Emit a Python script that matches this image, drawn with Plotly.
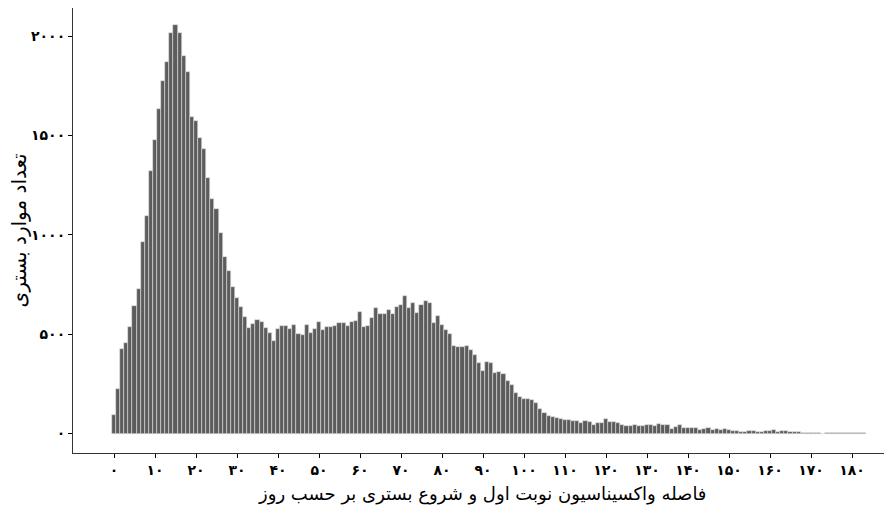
import plotly.graph_objects as go

counts = [91, 222, 427, 457, 538, 642, 729, 964, 1095, 1322,
          1478, 1633, 1776, 1868, 2016, 2056, 2016, 1898, 1818, 1594,
          1571, 1490, 1431, 1284, 1183, 1129, 1011, 889, 818, 740,
          682, 638, 586, 533, 553, 570, 561, 533, 504, 465,
          524, 541, 541, 524, 546, 502, 497, 546, 504, 524,
          561, 521, 536, 536, 541, 556, 556, 541, 563, 567,
          612, 536, 539, 583, 633, 603, 603, 620, 603, 635,
          647, 692, 632, 657, 608, 645, 667, 655, 558, 591,
          544, 521, 502, 440, 437, 437, 440, 418, 393, 356,
          316, 359, 356, 306, 311, 301, 262, 245, 205, 186,
          173, 173, 171, 155, 126, 104, 87, 82, 77, 74,
          67, 70, 64, 62, 54, 62, 57, 44, 54, 52,
          74, 56, 56, 52, 45, 40, 37, 45, 37, 37,
          45, 45, 40, 47, 44, 45, 24, 34, 42, 29,
          27, 27, 29, 17, 25, 29, 20, 24, 20, 22,
          17, 13, 12, 10, 7, 12, 12, 10, 10, 12,
          15, 17, 10, 13, 12, 10, 7, 10, 5, 5,
          5, 5, 5, 0, 3, 3, 3, 3, 4, 5,
          4, 3, 3, 3]
days = list(range(len(counts)))

x_tick_vals = [0, 10, 20, 30, 40, 50, 60, 70, 80, 90, 100, 110, 120, 130, 140, 150, 160, 170, 180]
x_tick_text = ["۰", "۱۰", "۲۰", "۳۰", "۴۰", "۵۰", "۶۰", "۷۰", "۸۰", "۹۰", "۱۰۰",
               "۱۱۰", "۱۲۰", "۱۳۰", "۱۴۰", "۱۵۰", "۱۶۰", "۱۷۰", "۱۸۰"]
y_tick_vals = [0, 500, 1000, 1500, 2000]
y_tick_text = ["۰", "۵۰۰", "۱۰۰۰", "۱۵۰۰", "۲۰۰۰"]

x_title = "فاصله واکسیناسیون نوبت اول و شروع بستری بر حسب روز"
y_title = "تعداد موارد بستری"

fig = go.Figure(go.Bar(
    x=days, y=counts, width=1,
    marker=dict(color="#5c5c5c", line=dict(color="#e0e0e0", width=0.6)),
))

font = "DejaVu Sans"
fig.update_layout(
    width=884, height=500,
    margin=dict(l=65, r=1, t=0, b=55),
    plot_bgcolor="white", paper_bgcolor="white",
    bargap=0, showlegend=False,
    font=dict(family=font, color="black"),
)
fig.update_xaxes(
    range=[-10, 189.5], tickvals=x_tick_vals, ticktext=x_tick_text,
    showgrid=False, zeroline=False, automargin=False,
    showline=True, linecolor="#333333", linewidth=1, mirror=True,
    ticks="outside", ticklen=4, tickcolor="black", tickwidth=1,
    tickfont=dict(size=14, family=font, color="black", weight="bold"),
)
fig.update_yaxes(
    range=[-98, 2142], tickvals=y_tick_vals, ticktext=y_tick_text,
    showgrid=False, zeroline=False, automargin=False,
    showline=True, linecolor="#333333", linewidth=1, mirror=True,
    ticks="outside", ticklen=4, tickcolor="black", tickwidth=1,
    tickfont=dict(size=14, family=font, color="black", weight="bold"),
)
fig.add_annotation(
    text=x_title, xref="paper", yref="paper", x=0.5, y=0,
    xanchor="center", yanchor="middle", yshift=-41, showarrow=False,
    font=dict(size=18, family=font, color="black"),
)
fig.add_annotation(
    text=y_title, xref="paper", yref="paper", x=0, y=0.5,
    xanchor="center", yanchor="middle", xshift=-55, textangle=-90, showarrow=False,
    font=dict(size=20, family=font, color="black"),
)

fig.write_html("out.html")
